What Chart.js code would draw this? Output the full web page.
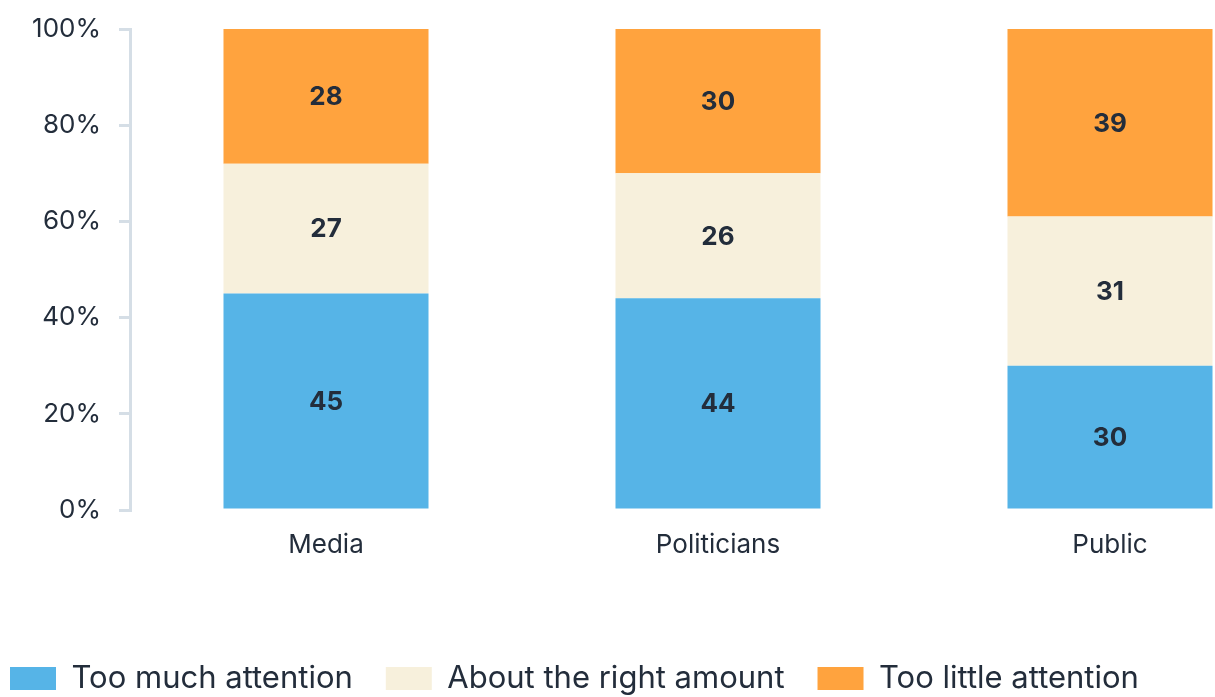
<!DOCTYPE html>
<html>
<head>
<meta charset="utf-8">
<script src="https://cdn.jsdelivr.net/npm/chart.js@4"></script>
<style>
  html, body { margin: 0; padding: 0; background: #fff; overflow: hidden; }
  #chart { display: block; }
</style>
</head>
<body>
<canvas id="chart" width="1306" height="697"></canvas>
<script>
const categories = ['Media', 'Politicians', 'Public'];
const tooMuch = [45, 44, 30];
const rightAmount = [27, 26, 31];
const tooLittle = [28, 30, 39];
const seriesNames = ['Too much attention', 'About the right amount', 'Too little attention'];
const yTicks = [0, 20, 40, 60, 80, 100];

const textColor = '#232d3b';
const axisColor = '#d5dee6';

// numbers in the middle of each bar segment
const segmentLabels = {
    id: 'segmentLabels',
    afterDatasetsDraw(chart) {
        const ctx = chart.ctx;
        ctx.save();
        ctx.font = 'bold 26px Inter';
        ctx.fillStyle = textColor;
        ctx.textAlign = 'center';
        ctx.textBaseline = 'middle';
        chart.data.datasets.forEach((ds, i) => {
            chart.getDatasetMeta(i).data.forEach((bar, j) => {
                const mid = (bar.y + bar.base) / 2;
                ctx.fillText(ds.data[j], bar.x, mid + 1);
            });
        });
        ctx.restore();
    }
};

const cv = document.querySelector('#chart').getContext('2d');
const myChart = new Chart(cv, {
    type: 'bar',
    data: {
        labels: categories,
        datasets: [
            { label: seriesNames[0], data: tooMuch, backgroundColor: '#56b4e7' },
            { label: seriesNames[1], data: rightAmount, backgroundColor: '#f7f0dc' },
            { label: seriesNames[2], data: tooLittle, backgroundColor: '#ffa33e' }
        ]
    },
    options: {
        responsive: false,
        animation: false,
        events: [],
        categoryPercentage: 1,
        barPercentage: 0.523,
        layout: { padding: { left: -23, top: 29, right: 0, bottom: -7 } },
        plugins: {
            tooltip: { enabled: false },
            legend: {
                position: 'bottom',
                align: 'start',
                labels: {
                    boxWidth: 46,
                    boxHeight: 23,
                    padding: 33,
                    color: textColor,
                    font: { family: 'Inter', size: 31 }
                }
            }
        },
        scales: {
            x: {
                stacked: true,
                grid: { display: false, drawTicks: false },
                border: { display: false },
                ticks: {
                    padding: 20,
                    color: textColor,
                    font: { family: 'Inter', size: 26 }
                },
                afterFit(scale) { scale.height = 120; }
            },
            y: {
                stacked: true,
                min: 0,
                max: 100,
                afterBuildTicks(scale) { scale.ticks = yTicks.map(v => ({ value: v })); },
                grid: {
                    drawOnChartArea: false,
                    drawTicks: true,
                    tickLength: 11,
                    color: axisColor,
                    lineWidth: 3
                },
                border: { color: axisColor, width: 3 },
                ticks: {
                    padding: 18,
                    color: textColor,
                    font: { family: 'Inter', size: 26 },
                    callback: v => v + '%'
                },
                afterFit(scale) {
                    scale.width = 153;
                    scale.paddingTop = 0;
                    scale.paddingBottom = 0;
                }
            }
        }
    },
    plugins: [segmentLabels]
});
</script>
</body>
</html>
